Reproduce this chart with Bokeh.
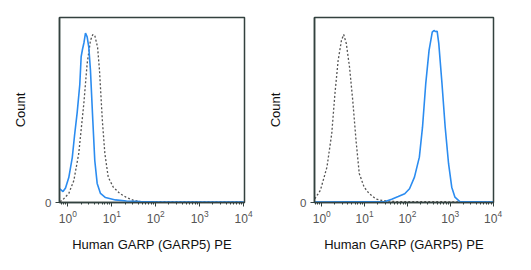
from bokeh.plotting import figure
from bokeh.layouts import row
from bokeh.models import Range1d, FixedTicker
from bokeh.embed import file_html
from bokeh.resources import INLINE

# ---- data (fluorescence intensity vs. count) ----
# Left panel: isotype / unstained (grey dotted) and stained (blue)
left_blue_x = [0.656, 0.776, 0.885, 1.05, 1.26, 1.42, 1.63, 1.87, 2.01, 2.15, 2.33, 2.52,
               2.75, 3.00, 3.27, 3.70, 4.10, 4.65, 5.53, 7.19, 12.1, 21.6, 45, 128, 10000]
left_blue_y = [7.4, 5.9, 7.8, 13.5, 24.3, 36.2, 48.6, 63.8, 78.9, 82.7, 86.5, 91.6,
               89.5, 83.8, 71.4, 44.3, 22.7, 10.3, 4.9, 2.7, 1.4, 0.8, 0.5, 0.3, 0.3]
left_grey_x = [0.66, 0.74, 1.05, 1.37, 1.77, 2.31, 2.75, 3.27, 3.70, 4.10, 4.75, 5.25,
               6.10, 6.95, 8.30, 10.8, 15.2, 21.0, 31.7, 45, 10000]
left_grey_y = [0.5, 1.1, 4.9, 11.9, 26.5, 53.5, 75.1, 87.6, 90.8, 90.3, 83.9, 71.4,
               44.3, 26.5, 13.7, 8.3, 4.9, 2.9, 1.1, 0.5, 0.3]
# Right panel
right_grey_x = [0.687, 0.925, 1.32, 1.71, 2.03, 2.41, 2.88, 3.25, 3.74, 4.45, 5.29, 6.31,
                7.50, 9.75, 12.7, 18.0, 25.4, 51, 10000]
right_grey_y = [2.0, 6.5, 19.1, 37.3, 58.9, 76.8, 87.6, 90.8, 85.9, 73.1, 55.1, 33.5,
                15.7, 8.3, 4.9, 2.0, 1.1, 0.5, 0.3]
right_blue_x = [0.676, 30.3, 42.9, 61, 86.5, 112, 146, 190, 225, 268, 320, 380, 416, 452,
                494, 540, 641, 762, 912, 1084, 1288, 1672, 10000]
right_blue_y = [0.3, 0.5, 1.8, 3.2, 4.7, 7.4, 13.7, 24.5, 40.7, 64.3, 82.2, 92.1, 93.0, 92.4,
                92.6, 85.9, 64.3, 40.7, 21.1, 8.3, 2.9, 0.5, 0.3]

x_label = "Human GARP (GARP5) PE"
y_label = "Count"
y_ticks = [0]

FONT = "Liberation Sans"
FRAME = "#33413f"
BLUE = "#2b8cf0"
GREY = "#555555"


def make_panel(width, border_left, border_right, x_lo, x_hi,
               bx, by, gx, gy):
    p = figure(width=width, height=262, x_axis_type="log",
               x_range=Range1d(x_lo, x_hi), y_range=Range1d(0, 100),
               output_backend="svg", toolbar_location=None,
               min_border_left=border_left, min_border_right=border_right,
               min_border_top=17, min_border_bottom=60)
    p.grid.visible = False
    p.outline_line_color = FRAME
    p.outline_line_width = 1.5
    p.background_fill_color = "white"
    p.border_fill_color = "white"

    p.line(gx, gy, line_color=GREY, line_width=1.3, line_dash="2 2")
    p.line(bx, by, line_color=BLUE, line_width=1.6)

    xa = p.xaxis[0]
    xa.axis_label = x_label
    xa.axis_label_text_font = FONT
    xa.axis_label_text_font_size = "13px"
    xa.axis_label_text_font_style = "normal"
    xa.axis_label_text_color = "#111111"
    xa.axis_label_standoff = 11
    xa.major_label_text_font = FONT
    xa.major_label_text_font_size = "12px"
    xa.major_label_text_color = "#555555"
    xa.major_label_standoff = 3
    xa.axis_line_color = FRAME
    xa.axis_line_width = 1.5
    xa.major_tick_line_color = FRAME
    xa.minor_tick_line_color = FRAME
    xa.major_tick_in = 0
    xa.major_tick_out = 4
    xa.minor_tick_in = 0
    xa.minor_tick_out = 2

    ya = p.yaxis[0]
    ya.ticker = FixedTicker(ticks=y_ticks)
    ya.axis_label = y_label
    ya.axis_label_text_font = FONT
    ya.axis_label_text_font_size = "13px"
    ya.axis_label_text_font_style = "normal"
    ya.axis_label_text_color = "#111111"
    ya.axis_label_standoff = 14
    ya.major_label_text_font = FONT
    ya.major_label_text_font_size = "11.5px"
    ya.major_label_text_color = "#555555"
    ya.major_label_standoff = 4
    ya.axis_line_color = FRAME
    ya.axis_line_width = 1.5
    ya.major_tick_line_color = FRAME
    ya.major_tick_in = 0
    ya.major_tick_out = 4
    ya.minor_tick_line_color = None
    return p


p1 = make_panel(265, 59, 21, 10 ** -0.19, 10 ** 4.02,
                left_blue_x, left_blue_y, left_grey_x, left_grey_y)
p2 = make_panel(266, 44, 38, 10 ** -0.17, 10 ** 4.01,
                right_blue_x, right_blue_y, right_grey_x, right_grey_y)

layout = row(p1, p2)
open("out.html", "w").write(file_html(layout, INLINE))
